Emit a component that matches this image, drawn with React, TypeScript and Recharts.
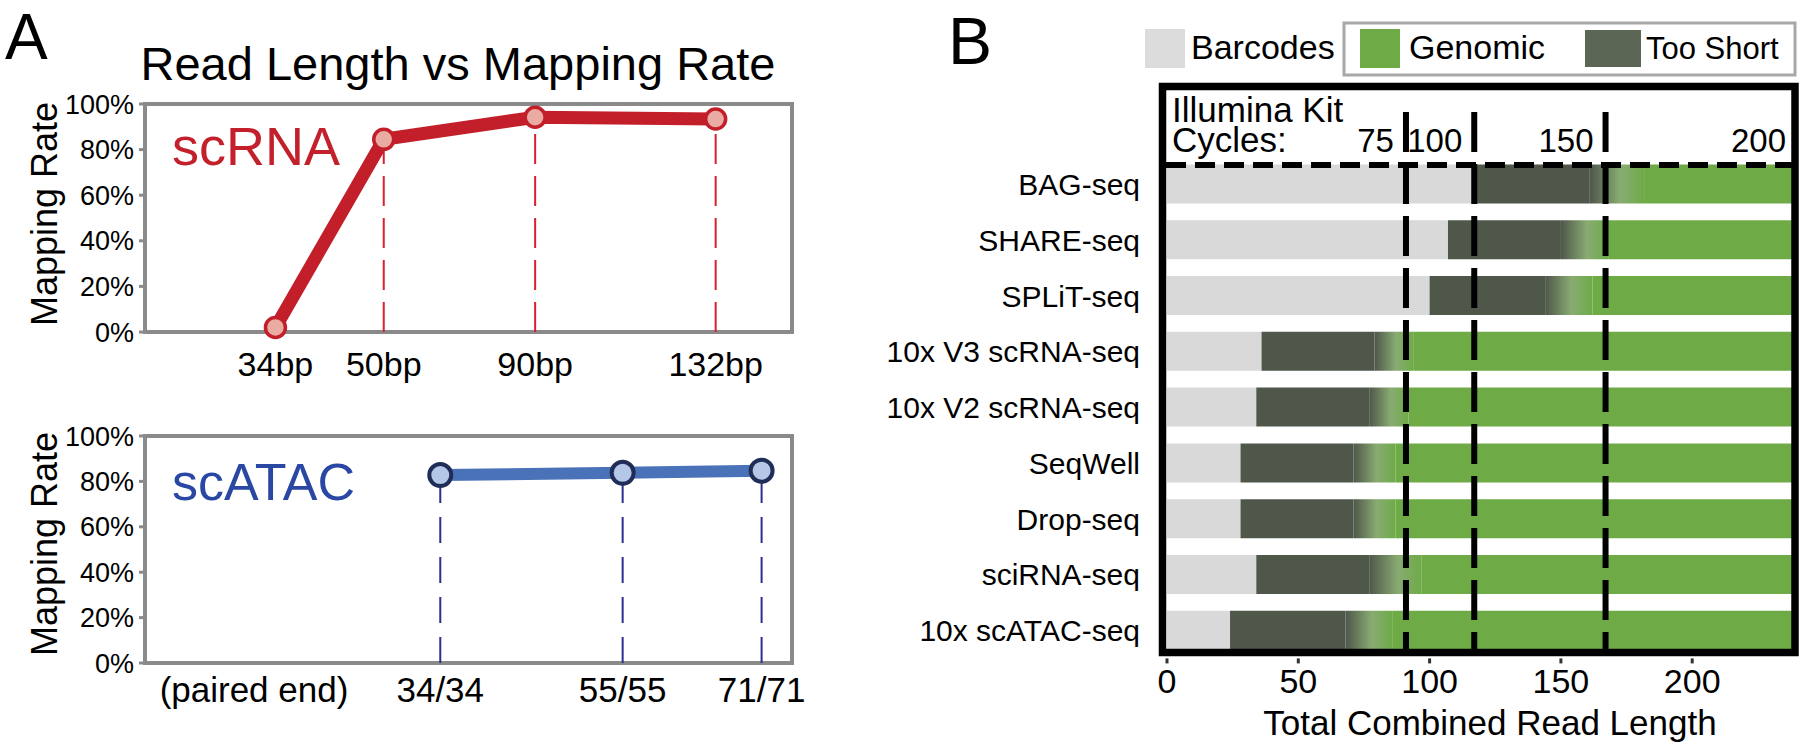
import { LineChart, Line, XAxis, YAxis, ReferenceLine, ReferenceArea, BarChart, Bar } from "recharts"

const FONT = "'Liberation Sans', Arial, Helvetica, sans-serif"

// Panel A, top: scRNA read length vs mapping rate (%)
const rnaReadLength = [34, 50, 90, 132]
const rnaMappingRate = [2, 84.5, 94.2, 93.4]

// Panel A, bottom: scATAC paired end reads (read 1 / read 2)
const atacRead1 = [34, 55, 71]
const atacRead2 = [34, 55, 71]
const atacMappingRate = [82.8, 83.8, 84.7]

const mappingTicks = [0, 20, 40, 60, 80, 100]

// Panel B: read structure per method
const methods = [
  "BAG-seq",
  "SHARE-seq",
  "SPLiT-seq",
  "10x V3 scRNA-seq",
  "10x V2 scRNA-seq",
  "SeqWell",
  "Drop-seq",
  "sciRNA-seq",
  "10x scATAC-seq",
]
const barcodeLength = [118, 107, 100, 36, 34, 28, 28, 34, 24]
const tooShortEnd = [161, 150, 144, 79, 77, 71, 71, 77, 68]
const fadeEnd = [182, 168, 162, 94, 92, 87, 87, 97, 86]
const maxReadLength = 238
const kitCycles = [75, 100, 150, 200]
const kitReadLimit = [91, 117, 167, 238]
const readLengthTicks = [0, 50, 100, 150, 200]

const rnaData = rnaReadLength.map((bp, i) => ({ bp, rate: rnaMappingRate[i] }))
const atacTotal = atacRead1.map((r, i) => r + atacRead2[i])
const atacData = atacTotal.map((total, i) => ({ total, rate: atacMappingRate[i] }))
const atacLabel = (v: number) => {
  const i = atacTotal.indexOf(v)
  return i < 0 ? "" : `${atacRead1[i]}/${atacRead2[i]}`
}

const methodData = methods.map((name, i) => ({
  name,
  barcodes: barcodeLength[i],
  tooShort: tooShortEnd[i] - barcodeLength[i],
  fade: fadeEnd[i] - tooShortEnd[i],
  genomic: maxReadLength - fadeEnd[i],
}))

// the scRNA axis in the figure is not evenly spaced: a piecewise scale over bp
const RNA_AXIS_BP = [0, 34, 50, 90, 132, 149]
const RNA_AXIS_FRAC = [0, 0.2016, 0.369, 0.603, 0.882, 1]

function piecewiseScale(): any {
  let dom: number[] = [0, 149]
  let rng: number[] = [0, 1]
  const s: any = (v: number) => {
    let i = 0
    while (i < RNA_AXIS_BP.length - 2 && v > RNA_AXIS_BP[i + 1]) i++
    const t = (v - RNA_AXIS_BP[i]) / (RNA_AXIS_BP[i + 1] - RNA_AXIS_BP[i])
    const f = RNA_AXIS_FRAC[i] + t * (RNA_AXIS_FRAC[i + 1] - RNA_AXIS_FRAC[i])
    return rng[0] + f * (rng[rng.length - 1] - rng[0])
  }
  s.domain = (d?: number[]) => {
    if (d === undefined) return dom.slice()
    dom = d.slice()
    return s
  }
  s.range = (r?: number[]) => {
    if (r === undefined) return rng.slice()
    rng = r.slice()
    return s
  }
  s.copy = () => piecewiseScale().domain(dom).range(rng)
  s.ticks = () => RNA_AXIS_BP.slice()
  return s
}

const RED = "#c21f2a"
const BLUE = "#4a72b8"
const FRAME = "#8a8a8a"

function KitMarker(props: any) {
  const { x1, cycles, last } = props
  return (
    <g>
      {!last && (
        <line x1={x1} x2={x1} y1={112} y2={651} stroke="#000" strokeWidth={6} strokeDasharray="40 12" />
      )}
      <text x={x1 - (last ? 6 : 12)} y={152} textAnchor="end" fontSize={33} fontFamily={FONT} fill="#000">
        {cycles}
      </text>
    </g>
  )
}

function RnaChart() {
  return (
    <LineChart width={820} height={400} data={rnaData} margin={{ top: 104, right: 28, bottom: 8, left: 0 }}>
      <ReferenceArea x1={0} x2={149} y1={0} y2={100} fill="none" stroke={FRAME} strokeWidth={4} />
      <XAxis
        type="number"
        dataKey="bp"
        domain={[0, 149]}
        scale={piecewiseScale()}
        ticks={rnaReadLength}
        interval={0}
        tickFormatter={(v) => `${v}bp`}
        axisLine={false}
        tickLine={false}
        tickSize={0}
        tickMargin={20}
        height={60}
        tick={{ fontSize: 34, fill: "#000", fontFamily: FONT }}
      />
      <YAxis
        domain={[0, 100]}
        ticks={mappingTicks}
        interval={0}
        tickFormatter={(v) => `${v}%`}
        axisLine={false}
        tickLine={{ stroke: FRAME, strokeWidth: 3 }}
        tickSize={6}
        tickMargin={5}
        width={145}
        tick={{ fontSize: 27, fill: "#000", fontFamily: FONT }}
      />
      {rnaData.map((d) => (
        <ReferenceLine
          key={d.bp}
          segment={[{ x: d.bp, y: 0 }, { x: d.bp, y: d.rate }]}
          stroke="#d8202e"
          strokeWidth={2}
          strokeDasharray="30 12"
        />
      ))}
      <Line
        dataKey="rate"
        stroke={RED}
        strokeWidth={13}
        dot={{ r: 10, fill: "#e9aba2", stroke: RED, strokeWidth: 3.5 }}
        activeDot={false}
        isAnimationActive={false}
      />
    </LineChart>
  )
}

function AtacChart() {
  return (
    <LineChart width={820} height={368} data={atacData} margin={{ top: 56, right: 28, bottom: 8, left: 0 }}>
      <ReferenceArea x1={0} x2={149} y1={0} y2={100} fill="none" stroke={FRAME} strokeWidth={4} />
      <XAxis
        type="number"
        dataKey="total"
        domain={[0, 149]}
        ticks={atacTotal}
        interval={0}
        tickFormatter={atacLabel}
        axisLine={false}
        tickLine={false}
        tickSize={0}
        tickMargin={14}
        height={77}
        tick={{ fontSize: 35, fill: "#000", fontFamily: FONT }}
      />
      <YAxis
        domain={[0, 100]}
        ticks={mappingTicks}
        interval={0}
        tickFormatter={(v) => `${v}%`}
        axisLine={false}
        tickLine={{ stroke: FRAME, strokeWidth: 3 }}
        tickSize={6}
        tickMargin={5}
        width={145}
        tick={{ fontSize: 27, fill: "#000", fontFamily: FONT }}
      />
      {atacData.map((d) => (
        <ReferenceLine
          key={d.total}
          segment={[{ x: d.total, y: 0 }, { x: d.total, y: d.rate }]}
          stroke="#2b2f8f"
          strokeWidth={2}
          strokeDasharray="26 14"
        />
      ))}
      <Line
        dataKey="rate"
        stroke={BLUE}
        strokeWidth={12}
        dot={{ r: 11, fill: "#b4c7e7", stroke: "#1f2d57", strokeWidth: 4 }}
        activeDot={false}
        isAnimationActive={false}
      />
    </LineChart>
  )
}

function ReadStructureChart() {
  return (
    <BarChart
      width={1000}
      height={748}
      data={methodData}
      layout="vertical"
      margin={{ top: 156.6, right: 8, bottom: 9.6, left: 0 }}
    >
      <defs>
        <linearGradient id="fadeGrad" x1="0" y1="0" x2="1" y2="0">
          <stop offset="0" stopColor="#4f574b" />
          <stop offset="0.55" stopColor="#88ab72" />
          <stop offset="1" stopColor="#6eab47" />
        </linearGradient>
      </defs>
      <XAxis
        type="number"
        domain={[0, maxReadLength]}
        ticks={readLengthTicks}
        interval={0}
        axisLine={false}
        tickLine={{ stroke: "#333", strokeWidth: 3 }}
        tickSize={5}
        tickMargin={5}
        height={80}
        tick={{ fontSize: 34, fill: "#000", fontFamily: FONT }}
      />
      <YAxis
        type="category"
        dataKey="name"
        width={367}
        interval={0}
        axisLine={false}
        tickLine={false}
        tickSize={0}
        tickMargin={27}
        tick={{ fontSize: 30, fill: "#000", fontFamily: FONT }}
      />
      <Bar dataKey="barcodes" stackId="r" fill="#d9d9d9" barSize={39} isAnimationActive={false} />
      <Bar dataKey="tooShort" stackId="r" fill="#4f574b" barSize={39} isAnimationActive={false} />
      <Bar dataKey="fade" stackId="r" fill="url(#fadeGrad)" barSize={39} isAnimationActive={false} />
      <Bar dataKey="genomic" stackId="r" fill="#6eab47" barSize={39} isAnimationActive={false} />
      {kitCycles.map((c, i) => (
        <ReferenceLine
          key={c}
          x={kitReadLimit[i]}
          stroke="none"
          shape={(p: any) => <KitMarker {...p} cycles={c} last={i === kitCycles.length - 1} />}
        />
      ))}
    </BarChart>
  )
}

export default function App() {
  return (
    <div
      style={{
        position: "absolute",
        left: 0,
        top: 0,
        width: 1800,
        height: 748,
        background: "#fff",
        overflow: "hidden",
        fontFamily: FONT,
      }}
    >
      <div style={{ position: "absolute", left: 0, top: 0 }}>
        <RnaChart />
      </div>
      <div style={{ position: "absolute", left: 0, top: 380 }}>
        <AtacChart />
      </div>
      <div style={{ position: "absolute", left: 800, top: 0 }}>
        <ReadStructureChart />
      </div>
      <svg
        width={1800}
        height={748}
        style={{ position: "absolute", left: 0, top: 0, pointerEvents: "none" }}
        fontFamily={FONT}
      >
        {/* panel A */}
        <text x={5} y={59} fontSize={64}>A</text>
        <text x={458} y={80} fontSize={47} textAnchor="middle">Read Length vs Mapping Rate</text>
        <text x={172} y={165} fontSize={54} fill="#c3202c">scRNA</text>
        <text x={172} y={500} fontSize={52} fill="#2a48a3">scATAC</text>
        <text transform="translate(57,214) rotate(-90)" fontSize={36} textAnchor="middle">Mapping Rate</text>
        <text transform="translate(57,544) rotate(-90)" fontSize={36} textAnchor="middle">Mapping Rate</text>
        <text x={254} y={702} fontSize={35} textAnchor="middle">(paired end)</text>

        {/* panel B */}
        <text x={948} y={64} fontSize={66}>B</text>
        <rect x={1145} y={29} width={40} height={39} fill="#dcdcdc" />
        <text x={1191} y={59} fontSize={34}>Barcodes</text>
        <rect x={1344} y={23} width={451} height={52} fill="none" stroke="#a8a8a8" strokeWidth={3} />
        <rect x={1360} y={29} width={40} height={39} fill="#6eab47" />
        <text x={1409} y={59} fontSize={34}>Genomic</text>
        <rect x={1585} y={30} width={56} height={37} fill="#5b6655" />
        <text x={1646} y={59} fontSize={31}>Too Short</text>

        <line x1={1166} x2={1792} y1={165} y2={165} stroke="#000" strokeWidth={6} strokeDasharray="20 9" />
        <rect x={1162.5} y={86.5} width={632.5} height={566} fill="none" stroke="#000" strokeWidth={7.5} />
        <text x={1172} y={122} fontSize={35}>Illumina Kit</text>
        <text x={1172} y={152} fontSize={35}>Cycles:</text>
        <text x={1490} y={735} fontSize={35} textAnchor="middle">Total Combined Read Length</text>
      </svg>
    </div>
  )
}
